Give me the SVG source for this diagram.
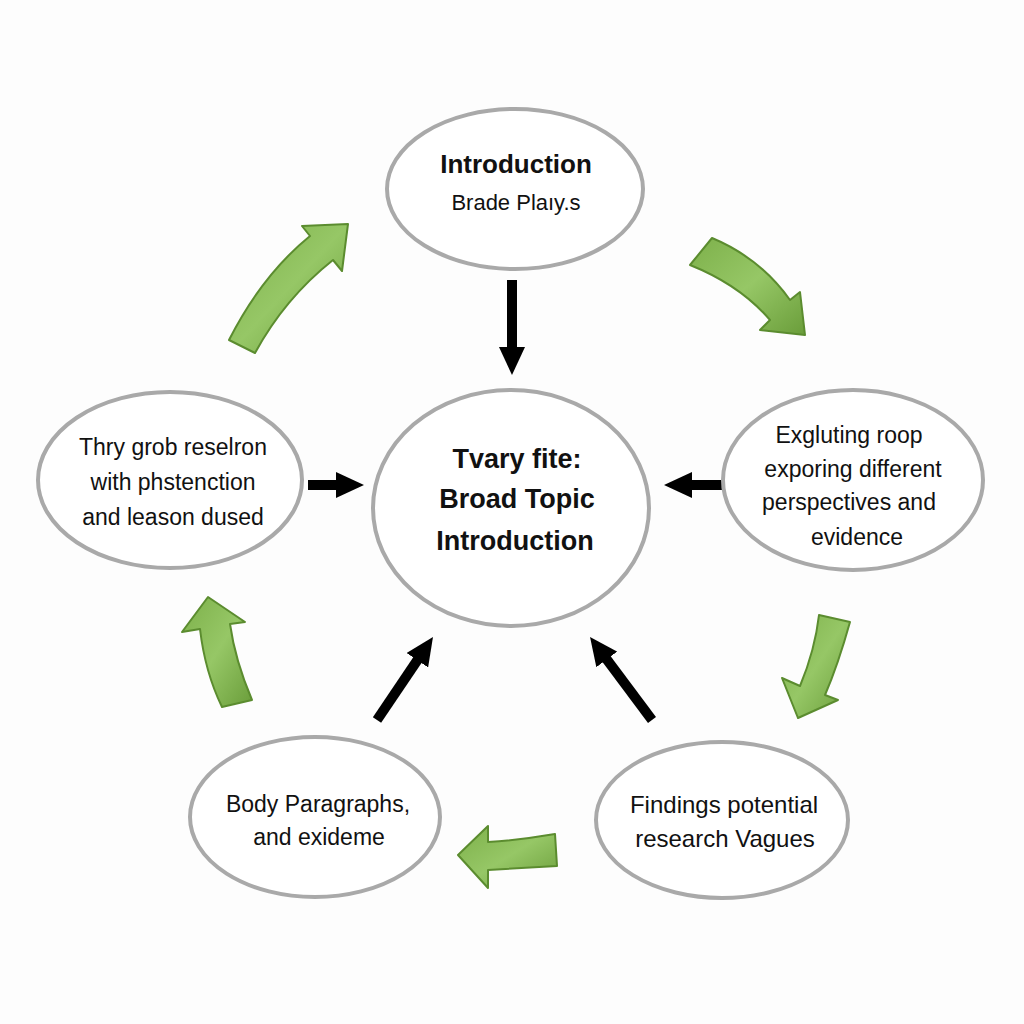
<svg xmlns="http://www.w3.org/2000/svg" width="1024" height="1024" viewBox="0 0 1024 1024">
  <defs>
    <style>
      .node { fill: #ffffff; stroke: #a9a9a9; stroke-width: 4; }
      .t { font-family: "Liberation Sans", Arial, sans-serif; fill: #111111; text-anchor: middle; }
      .b { font-weight: bold; font-size: 27px; }
      .r { font-size: 23px; }
      .blk { stroke: #000000; stroke-width: 10; fill: none; marker-end: url(#head); }
      .grn { fill: url(#g); stroke: #5b8c2f; stroke-width: 2; stroke-linejoin: round; }
    </style>
    <marker id="head" markerUnits="userSpaceOnUse" markerWidth="28" markerHeight="26" refX="8" refY="13" orient="auto">
      <path d="M0,0 L28,13 L0,26 Z" fill="#000000"/>
    </marker>
    <linearGradient id="g" x1="0" y1="0" x2="1" y2="1">
      <stop offset="0" stop-color="#7db04a"/>
      <stop offset="0.5" stop-color="#96c766"/>
      <stop offset="1" stop-color="#6a9d3a"/>
    </linearGradient>
  </defs>
  <rect width="1024" height="1024" fill="#fdfdfd"/>

  <g id="connectors">
    <line class="blk" x1="512" y1="280" x2="512" y2="355"/>
    <line class="blk" x1="308" y1="485" x2="344" y2="485"/>
    <line class="blk" x1="723" y1="485" x2="684" y2="485"/>
    <line class="blk" x1="377" y1="720" x2="421.8" y2="653.6"/>
    <line class="blk" x1="652" y1="720" x2="602" y2="653"/>
    <path class="grn" d="M229,340 Q262,275 310,236 L302,226 L348,224 L342,271 L333,260 Q285,298 255,353 Z"/>
    <path class="grn" d="M712,238 Q760,258 790,300 L800,292 L805,335 L760,330 L770,320 Q740,285 690,265 Z"/>
    <path class="grn" d="M819,615 L850,622 Q838,665 825,695 L838,700 L798,718 L782,678 L800,686 Q815,650 819,615 Z"/>
    <path class="grn" d="M555,834 L557,866 Q525,868 488,870 L488,888 L458,855 L488,826 L488,842 Q520,840 555,834 Z"/>
    <path class="grn" d="M222,707 L252,700 Q235,660 230,624 L245,622 L208,597 L182,632 L200,629 Q205,672 222,707 Z"/>
  </g>

  <g id="node-top">
    <ellipse class="node" cx="515" cy="189" rx="128" ry="80"/>
    <text class="t" x="516" y="173" font-size="26" font-weight="bold">Introduction</text>
    <text class="t" x="516" y="210" font-size="22">Brade Plaıy.s</text>
  </g>

  <g id="node-center">
    <ellipse class="node" cx="511" cy="508" rx="138" ry="118"/>
    <text class="t b" x="517" y="468">Tvary fite:</text>
    <text class="t b" x="517" y="508">Broad Topic</text>
    <text class="t b" x="515" y="550">Introduction</text>
  </g>

  <g id="node-left">
    <ellipse class="node" cx="170" cy="480" rx="132" ry="88"/>
    <text class="t r" x="173" y="455">Thry grob reselron</text>
    <text class="t r" x="173" y="490">with phstenction</text>
    <text class="t r" x="173" y="525">and leason dused</text>
  </g>

  <g id="node-right">
    <ellipse class="node" cx="853" cy="480" rx="130" ry="90"/>
    <text class="t r" x="849" y="443">Exgluting roop</text>
    <text class="t r" x="853" y="477">exporing different</text>
    <text class="t r" x="849" y="510">perspectives and</text>
    <text class="t r" x="857" y="545">evidence</text>
  </g>

  <g id="node-bottom-left">
    <ellipse class="node" cx="315" cy="817" rx="125" ry="80"/>
    <text class="t r" x="318" y="812">Body Paragraphs,</text>
    <text class="t r" x="319" y="845">and exideme</text>
  </g>

  <g id="node-bottom-right">
    <ellipse class="node" cx="722" cy="820" rx="126" ry="78"/>
    <text class="t" x="724" y="813" font-size="24">Findings potential</text>
    <text class="t" x="725" y="847" font-size="24">research Vagues</text>
  </g>
</svg>
